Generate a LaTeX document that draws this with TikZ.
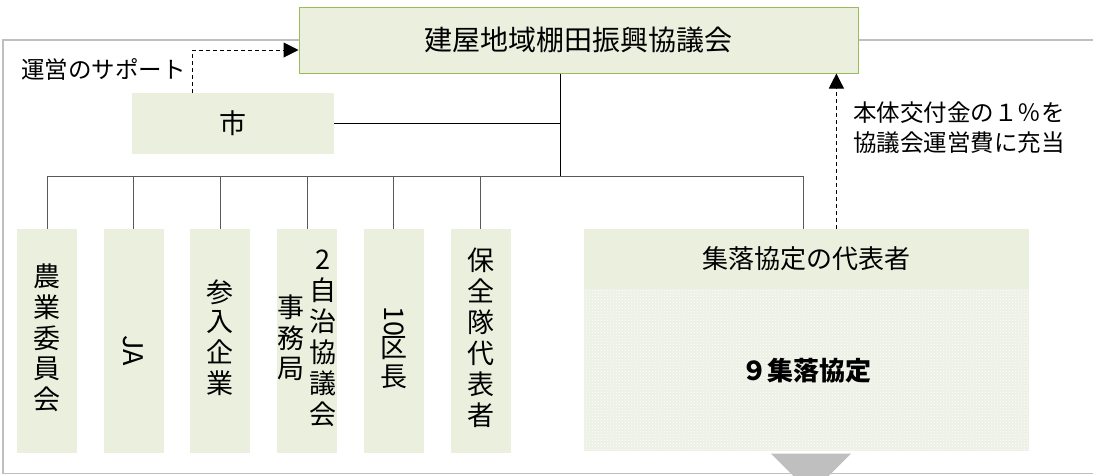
\documentclass[tikz,border=0pt]{standalone}
\usepackage{fontspec}
\setmainfont{Noto Sans CJK JP}
\usepackage{graphicx}
\usetikzlibrary{positioning}
\usetikzlibrary{arrows.meta}
\usetikzlibrary{patterns}

\definecolor{boxgreen}{HTML}{EBEFDE}
\definecolor{edgegreen}{HTML}{9BBB59}
\definecolor{framegray}{HTML}{BFBFBF}
\definecolor{dotgreen}{HTML}{EDF0E4}
\definecolor{busgray}{HTML}{595959}

% vertical writing: one character per row
\newcommand{\tate}[1]{\begin{tabular}{@{}c@{}}#1\end{tabular}}

\tikzset {
  % path styles
  frame/.style = {
    draw = framegray,
    line width = 1.2pt
  },
  bus/.style = {
    draw = busgray,
    line width = 1pt
  },
  stem/.style = {
    draw = black,
    line width = 1pt
  },
  cityline/.style = {
    draw = black,
    line width = 1.6pt
  },
  % dashed path with a filled arrow head
  dasharr/.style = {
    draw = black,
    line width = 1pt,
    dash pattern = on 4pt off 3pt,
    -{Triangle[length=15pt, width=15pt]}
  }
}
\tikzset {
  org node/.style = {
    fill = boxgreen,
    inner sep = 0
  },
  % the council on top
  council/.style = {
    org node,
    draw = edgegreen,
    line width = 1pt,
    minimum width = 559pt,
    minimum height = 66pt,
    font = \fontsize{28}{30}\selectfont
  },
  citybox/.style = {
    org node,
    minimum width = 202pt,
    minimum height = 61pt,
    font = \fontsize{27}{30}\selectfont
  },
  % member columns
  member/.style = {
    org node,
    minimum width = 60pt,
    minimum height = 224pt,
    font = \fontsize{27}{27.5}\selectfont
  },
  rephead/.style = {
    org node,
    minimum width = 445pt,
    minimum height = 60pt,
    font = \fontsize{26}{30}\selectfont
  },
  repbody/.style = {
    fill = dotgreen,
    inner sep = 0,
    minimum width = 445pt,
    minimum height = 162pt,
    font = \fontsize{26}{30}\selectfont\bfseries
  },
  note/.style = {
    inner sep = 0,
    font = \fontsize{23.5}{30}\selectfont
  },
  node distance = 26.3pt
}

\begin{document}
\begin{tikzpicture}[x=1pt, y=-1pt]
    \useasboundingbox (0,0) rectangle (1093,475);

    \node[council] (council) at (578.5,40) {建屋地域棚田振興協議会};
    \node[citybox] (city) at (233,123.5) {市};

    \node[member] (farm) at (47,341) {\tate{農\\業\\委\\員\\会}};
    \node[member] (ja) [right=of farm] {\tate{\rotatebox{-90}{JA}}};
    \node[member] (firm) [right=of ja] {\tate{参\\入\\企\\業}};
    \node[member] (office) [right=of firm]
      {\tate{事\\務\\局}\hspace{5pt}\tate{2\\自\\治\\協\\議\\会}};
    \node[member] (ward) [right=of office]
      {\tate{\rotatebox{-90}{10}\\区\\長}};
    \node[member] (guard) [right=of ward] {\tate{保\\全\\隊\\代\\表\\者}};

    \node[rephead] (rep) [right=73pt of guard.north east, anchor=north west]
      {集落協定の代表者};
    \node[repbody] (groups) [below=0pt of rep] {};
    \path[pattern=crosshatch dots, pattern color=white] (groups.north west) rectangle (groups.south east);
    \node[font=\fontsize{26}{30}\selectfont\bfseries] (groupname) at (groups.center) {９集落協定};
    \fill[framegray] ([xshift=-35.5pt, yshift=-2pt]groups.south) -- ++(80,0) -- ++(-40,40) -- cycle;

    % outer frame, behind the council box
    \draw[frame] (council.west) -- (3,40) -- (3,473.5) -- (1100,473.5) -- (1100,40) -- (council.east);

    \coordinate (hub) at (560,176);
    \draw[stem] (council.south -| hub) -- (hub);
    \draw[cityline] (city.east) -- (city.east -| hub);
    \draw[bus] (farm.north |- hub) -- ([xshift=-3pt]rep.north |- hub) -- ([xshift=-3pt]rep.north);
    \foreach \m in {farm, ja, firm, office, ward, guard}
      \draw[bus] (\m.north) -- (\m.north |- hub);

    \draw[dasharr] ([xshift=61pt]city.north west) |- ([yshift=-10pt]council.west);
    \node[note, anchor=east] (support) at (186,69) {運営のサポート};

    \coordinate (fund) at ([xshift=30pt]rep.north);
    \draw[dasharr] (fund) -- (fund |- council.south);
    \node[note, align=left, anchor=west] (share) at (853,128)
      {本体交付金の１％を\\協議会運営費に充当};
  \end{tikzpicture}
\end{document}
